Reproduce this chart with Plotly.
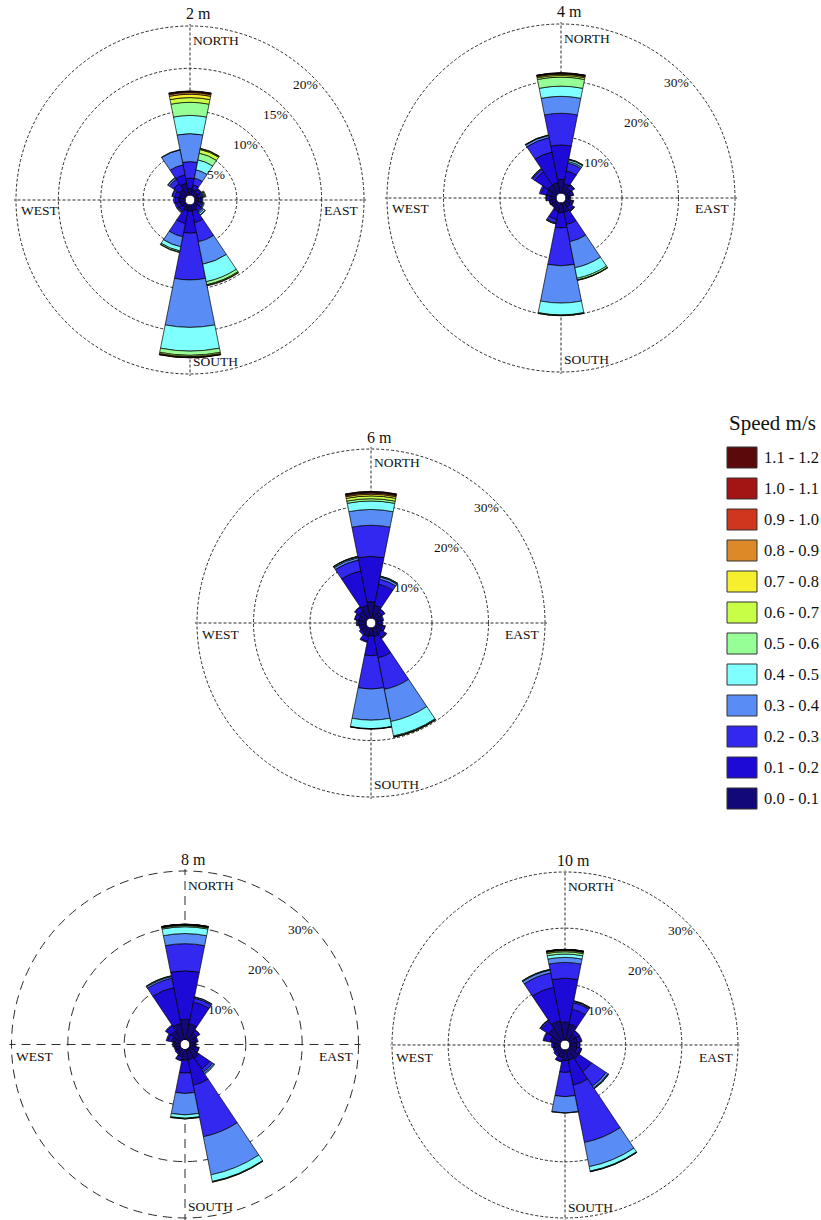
import plotly.graph_objects as go

# ---------------- data ----------------
directions = ["N", "NNE", "NE", "ENE", "E", "ESE", "SE", "SSE",
              "S", "SSW", "SW", "WSW", "W", "WNW", "NW", "NNW"]
theta = [0, 22.5, 45, 67.5, 90, 112.5, 135, 157.5,
         180, 202.5, 225, 247.5, 270, 292.5, 315, 337.5]

speed_labels = ["0.0 - 0.1", "0.1 - 0.2", "0.2 - 0.3", "0.3 - 0.4",
                "0.4 - 0.5", "0.5 - 0.6", "0.6 - 0.7", "0.7 - 0.8",
                "0.8 - 0.9", "0.9 - 1.0", "1.0 - 1.1", "1.1 - 1.2"]
speed_colors = ["#13087a", "#1e0ad6", "#3228f0", "#5a8cf5",
                "#80ffff", "#96ff96", "#c8ff46", "#f5ef2e",
                "#dc8a28", "#d0351e", "#a31414", "#5a0a0a"]

# frequency (%) per speed bin (rows) and direction (columns N..NNW)
freq_2m = [
    [0.85, 0.7, 0.6, 0.5, 0.5, 0.5, 0.6, 0.8, 0.8, 0.8, 0.6, 0.7, 0.8, 0.8, 1.0, 1.5],
    [1.2, 0.6, 0.3, 0.3, 0.3, 0.3, 0.4, 1.4, 2.6, 1.5, 0.4, 0.4, 0.4, 0.5, 0.8, 1.0],
    [1.95, 0.8, 0.15, 0.2, 0.1, 0.2, 0.2, 2.3, 5.5, 1.6, 0.2, 0.2, 0.2, 0.3, 0.6, 1.2],
    [3.3, 1.0, 0.05, 0.1, 0.1, 0.1, 0.2, 2.7, 5.6, 1.2, 0.1, 0, 0, 0.05, 0.2, 1.8],
    [2.15, 1.2, 0, 0.1, 0, 0.1, 0.2, 2.1, 2.8, 0.5, 0, 0, 0, 0, 0.05, 0.05],
    [1.55, 0.8, 0, 0.1, 0, 0, 0.05, 0.35, 0.5, 0.15, 0, 0, 0, 0, 0, 0],
    [0.55, 0.45, 0, 0.1, 0, 0, 0, 0.1, 0.15, 0.05, 0, 0, 0, 0, 0, 0],
    [0.4, 0.1, 0, 0, 0, 0, 0, 0.05, 0.08, 0, 0, 0, 0, 0, 0, 0],
    [0.2, 0.05, 0, 0, 0, 0, 0, 0, 0.04, 0, 0, 0, 0, 0, 0, 0],
    [0.1, 0, 0, 0, 0, 0, 0, 0, 0.02, 0, 0, 0, 0, 0, 0, 0],
    [0.05, 0, 0, 0, 0, 0, 0, 0, 0, 0, 0, 0, 0, 0, 0, 0],
    [0.03, 0, 0, 0, 0, 0, 0, 0, 0, 0, 0, 0, 0, 0, 0, 0],
]
freq_4m = [
    [2.5, 1.8, 1.3, 1.0, 0.7, 1.0, 1.2, 1.8, 1.8, 1.6, 0.9, 1.0, 1.3, 1.8, 2.0, 2.0],
    [6.1, 2.3, 0.6, 0.4, 0.2, 0.4, 0.6, 2.2, 2.7, 1.5, 0.3, 0.3, 0.5, 1.0, 2.8, 5.5],
    [5.6, 1.4, 0.15, 0.1, 0, 0.1, 0.2, 3.1, 6.7, 0.6, 0.1, 0.1, 0.1, 0.3, 0.5, 2.6],
    [3.0, 0.3, 0.05, 0, 0, 0, 0.05, 4.7, 6.6, 0.15, 0, 0, 0, 0, 0.15, 0.4],
    [1.8, 0.3, 0, 0, 0, 0, 0.05, 1.9, 2.1, 0.05, 0, 0, 0, 0, 0.05, 0.05],
    [1.6, 0.1, 0, 0, 0, 0, 0, 0.3, 0.1, 0, 0, 0, 0, 0, 0, 0.05],
    [0.3, 0.05, 0, 0, 0, 0, 0, 0.05, 0.05, 0, 0, 0, 0, 0, 0, 0],
    [0.2, 0, 0, 0, 0, 0, 0, 0.03, 0, 0, 0, 0, 0, 0, 0, 0],
    [0.12, 0, 0, 0, 0, 0, 0, 0, 0, 0, 0, 0, 0, 0, 0, 0],
    [0.08, 0, 0, 0, 0, 0, 0, 0, 0, 0, 0, 0, 0, 0, 0, 0],
    [0.04, 0, 0, 0, 0, 0, 0, 0, 0, 0, 0, 0, 0, 0, 0, 0],
    [0.02, 0, 0, 0, 0, 0, 0, 0, 0, 0, 0, 0, 0, 0, 0, 0],
]
freq_6m = [
    [3.0, 2.4, 1.6, 1.2, 1.1, 1.3, 1.5, 1.7, 1.5, 1.6, 1.3, 1.1, 1.4, 1.5, 1.8, 2.4],
    [8.0, 3.8, 0.5, 0.3, 0.2, 0.4, 0.8, 3.8, 3.5, 0.9, 0.4, 0.3, 0.4, 0.6, 0.8, 6.2],
    [5.5, 0.9, 0.1, 0, 0, 0.1, 0.2, 5.7, 5.9, 0.2, 0, 0, 0, 0.1, 0.1, 2.0],
    [2.8, 0.4, 0, 0, 0, 0, 0.05, 5.8, 5.5, 0, 0, 0, 0, 0, 0, 0.4],
    [1.5, 0.15, 0, 0, 0, 0, 0, 2.6, 1.5, 0, 0, 0, 0, 0, 0, 0.15],
    [0.4, 0.05, 0, 0, 0, 0, 0, 0.15, 0.05, 0, 0, 0, 0, 0, 0, 0.05],
    [0.5, 0, 0, 0, 0, 0, 0, 0.05, 0.03, 0, 0, 0, 0, 0, 0, 0.03],
    [0.3, 0, 0, 0, 0, 0, 0, 0.03, 0, 0, 0, 0, 0, 0, 0, 0],
    [0.2, 0, 0, 0, 0, 0, 0, 0, 0, 0, 0, 0, 0, 0, 0, 0],
    [0.15, 0, 0, 0, 0, 0, 0, 0, 0, 0, 0, 0, 0, 0, 0, 0],
    [0.1, 0, 0, 0, 0, 0, 0, 0, 0, 0, 0, 0, 0, 0, 0, 0],
    [0.05, 0, 0, 0, 0, 0, 0, 0, 0, 0, 0, 0, 0, 0, 0, 0],
]
freq_8m = [
    [3.7, 3.0, 1.7, 1.3, 1.0, 1.3, 2.2, 2.0, 2.0, 1.5, 1.0, 1.0, 1.1, 1.6, 2.2, 3.0],
    [8.6, 3.9, 0.6, 0.3, 0.2, 0.4, 2.3, 4.6, 2.3, 0.6, 0.3, 0.2, 0.3, 0.8, 1.0, 6.5],
    [4.8, 0.7, 0.1, 0, 0, 0.1, 0.6, 9.3, 3.6, 0.1, 0, 0, 0, 0.2, 0.2, 1.7],
    [1.8, 0.2, 0, 0, 0, 0, 0.3, 6.9, 3.8, 0, 0, 0, 0, 0, 0, 0.3],
    [1.2, 0.05, 0, 0, 0, 0, 0.15, 1.2, 0.6, 0, 0, 0, 0, 0, 0, 0.1],
    [0.2, 0, 0, 0, 0, 0, 0, 0.1, 0.1, 0, 0, 0, 0, 0, 0, 0.05],
    [0.1, 0, 0, 0, 0, 0, 0, 0.03, 0.03, 0, 0, 0, 0, 0, 0, 0],
    [0.06, 0, 0, 0, 0, 0, 0, 0, 0, 0, 0, 0, 0, 0, 0, 0],
    [0.04, 0, 0, 0, 0, 0, 0, 0, 0, 0, 0, 0, 0, 0, 0, 0],
    [0.03, 0, 0, 0, 0, 0, 0, 0, 0, 0, 0, 0, 0, 0, 0, 0],
    [0.02, 0, 0, 0, 0, 0, 0, 0, 0, 0, 0, 0, 0, 0, 0, 0],
    [0.01, 0, 0, 0, 0, 0, 0, 0, 0, 0, 0, 0, 0, 0, 0, 0],
]
freq_10m = [
    [3.3, 3.0, 1.6, 1.5, 1.3, 1.4, 2.2, 2.0, 2.0, 1.5, 1.2, 1.1, 1.2, 1.9, 2.8, 3.6],
    [7.8, 2.7, 0.6, 0.6, 0.5, 0.6, 2.7, 4.5, 2.1, 0.7, 0.4, 0.3, 0.4, 1.1, 1.4, 6.1],
    [2.8, 1.2, 0.1, 0.2, 0.1, 0.2, 3.1, 10.4, 4.3, 0.1, 0, 0, 0, 0.2, 0.3, 2.6],
    [0.9, 0.2, 0, 0, 0, 0.03, 0.4, 4.4, 2.9, 0, 0, 0, 0, 0, 0.05, 0.5],
    [0.6, 0.1, 0, 0, 0, 0, 0.15, 0.8, 0.05, 0, 0, 0, 0, 0, 0.03, 0.1],
    [0.4, 0.05, 0, 0, 0, 0, 0.03, 0.1, 0, 0, 0, 0, 0, 0, 0, 0.05],
    [0.2, 0, 0, 0, 0, 0, 0, 0.03, 0, 0, 0, 0, 0, 0, 0, 0],
    [0.1, 0, 0, 0, 0, 0, 0, 0, 0, 0, 0, 0, 0, 0, 0, 0],
    [0.06, 0, 0, 0, 0, 0, 0, 0, 0, 0, 0, 0, 0, 0, 0, 0],
    [0.04, 0, 0, 0, 0, 0, 0, 0, 0, 0, 0, 0, 0, 0, 0, 0],
    [0.02, 0, 0, 0, 0, 0, 0, 0, 0, 0, 0, 0, 0, 0, 0, 0],
    [0.01, 0, 0, 0, 0, 0, 0, 0, 0, 0, 0, 0, 0, 0, 0, 0],
]

heights = ["2 m", "4 m", "6 m", "8 m", "10 m"]
radial_max = [20, 30, 30, 30, 30]
radial_ticks = [[5, 10, 15, 20], [10, 20, 30], [10, 20, 30], [10, 20, 30], [10, 20, 30]]
freqs = [freq_2m, freq_4m, freq_6m, freq_8m, freq_10m]

# ---------------- layout geometry (pixels) ----------------
W, H = 821, 1220
R = 174                 # radius of the outermost (max) ring
HOLE_PX = 4.5           # empty centre
PAD = 1.012             # axis range slightly beyond the last ring so its grid circle is drawn
RD = HOLE_PX + PAD * (R - HOLE_PX)   # actual polar domain radius
centers = [(190, 200), (561, 198), (371, 623), (185, 1045), (565, 1046)]
grid_dash = ["3px,2px", "3px,2px", "3px,2px", "9px,6px", "3px,2px"]
FONT = "Liberation Serif, Times New Roman, serif"
TXT = "#111111"


def px(x):
    return x / W


def py(y):
    return 1 - y / H


fig = go.Figure()
annotations = []
shapes = []
layout_polars = {}

for k, (name, rmax, tks, data, (cx, cy), dash) in enumerate(
        zip(heights, radial_max, radial_ticks, freqs, centers, grid_dash)):
    sp = "polar" if k == 0 else f"polar{k + 1}"
    for b, (lab, col) in enumerate(zip(speed_labels, speed_colors)):
        fig.add_trace(go.Barpolar(
            r=data[b], theta=theta, width=22.5, name=lab,
            marker=dict(color=col, line=dict(color="black", width=0.7)),
            subplot=sp, showlegend=False,
            hovertemplate=f"{name} %{{theta}}°<br>{lab} m/s: %{{r}}%<extra></extra>",
        ))
    layout_polars[sp] = dict(
        domain=dict(x=[px(cx - RD), px(cx + RD)], y=[max(0, py(cy + RD)), min(1, py(cy - RD))]),
        bgcolor="white",
        hole=HOLE_PX / RD,
        barmode="stack",
        radialaxis=dict(range=[0, rmax * PAD], tickvals=tks, showticklabels=False,
                        ticks="", showline=False, gridcolor="#2a2a2a", gridwidth=0.8,
                        griddash=dash),
        angularaxis=dict(rotation=90, direction="clockwise", tickvals=[0, 90, 180, 270],
                         showticklabels=False, ticks="", showline=False,
                         gridcolor="#2a2a2a", gridwidth=0.8, griddash=dash),
    )
    # subplot title
    annotations.append(dict(text=name, x=px(cx + 8), y=py(cy - R - 12), xref="paper", yref="paper",
                            xanchor="center", yanchor="middle", showarrow=False,
                            font=dict(family=FONT, size=16, color=TXT)))
    # compass labels
    f13 = dict(family=FONT, size=13.5, color=TXT)
    annotations += [
        dict(text="NORTH", x=px(cx + 1), y=py(cy - R + 14), xanchor="left", yanchor="middle"),
        dict(text="SOUTH", x=px(cx + 1), y=py(cy + R - 13), xanchor="left", yanchor="middle"),
        dict(text="WEST", x=px(cx - R + 3), y=py(cy + 11), xanchor="left", yanchor="middle"),
        dict(text="EAST", x=px(cx + R - 3), y=py(cy + 11), xanchor="right", yanchor="middle"),
    ]
    for a in annotations[-4:]:
        a.update(xref="paper", yref="paper", showarrow=False, font=f13)
    # radial tick labels along the NE direction, just inside each ring
    for t in tks:
        ring = HOLE_PX + (R - HOLE_PX) * t / rmax
        d = ring - 10.5
        annotations.append(dict(text=f"{t}%", x=px(cx + d * 0.7071), y=py(cy - d * 0.7071),
                                xref="paper", yref="paper", xanchor="center", yanchor="middle",
                                showarrow=False, font=f13))

# ---------------- legend (drawn manually) ----------------
annotations.append(dict(text="Speed m/s", x=px(727), y=py(423), xref="paper", yref="paper",
                        xanchor="left", yanchor="middle", showarrow=False,
                        font=dict(family=FONT, size=21, color=TXT)))
for i, b in enumerate(range(len(speed_labels) - 1, -1, -1)):
    yc = 457.5 + i * 31
    shapes.append(dict(type="rect", xref="paper", yref="paper",
                       x0=px(727), x1=px(757), y0=py(yc + 10.5), y1=py(yc - 10.5),
                       fillcolor=speed_colors[b], line=dict(color="#333333", width=1)))
    annotations.append(dict(text=speed_labels[b], x=px(762), y=py(yc), xref="paper", yref="paper",
                            xanchor="left", yanchor="middle", showarrow=False,
                            font=dict(family=FONT, size=16.5, color=TXT)))

fig.update_layout(
    width=W, height=H,
    margin=dict(l=0, r=0, t=0, b=0),
    paper_bgcolor="white",
    plot_bgcolor="white",
    showlegend=False,
    annotations=annotations,
    shapes=shapes,
    **layout_polars,
)

fig.write_html("out.html")
